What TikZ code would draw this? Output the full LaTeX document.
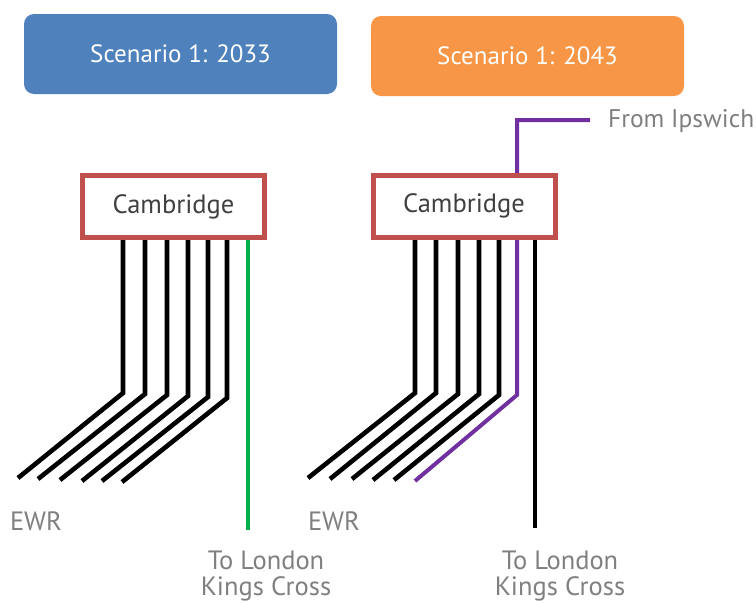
\documentclass[tikz,border=0pt]{standalone}
\usepackage{fontspec}
\setmainfont{PT Sans}
\usetikzlibrary{backgrounds}
\definecolor{scblue}{HTML}{4F81BD}
\definecolor{scorange}{HTML}{F79646}
\definecolor{camred}{HTML}{C0504D}
\definecolor{kxgreen}{HTML}{00B050}
\definecolor{ipurple}{HTML}{7030A0}
\definecolor{lblgray}{HTML}{7F7F7F}
\definecolor{camtext}{HTML}{404040}
\begin{document}
\begin{tikzpicture}[x=1pt,y=-1pt,
  scen/.style={rounded corners=10pt, minimum width=313pt, minimum height=80pt, inner sep=0pt, text=white, font=\fontsize{25}{30}\selectfont},
  cambox/.style={draw=camred, line width=5pt, fill=white, minimum width=182pt, minimum height=62pt, inner sep=0pt, text=camtext, font=\fontsize{26.5}{30}\selectfont},
  lbl/.style={text=lblgray, inner sep=0pt, align=center, font=\fontsize{26.5}{26.5}\selectfont},
  rail/.style={line width=4.6pt, black},
  greenrail/.style={line width=4.6pt, kxgreen},
  purplerail/.style={line width=4pt, ipurple},
]
\useasboundingbox (0,0) rectangle (756,603);

\node[scen, fill=scblue] (s1) at (180.5,54) {Scenario 1: 2033};
\node[scen, fill=scorange] (s2) at (527.5,56) {Scenario 1: 2043};

\node[cambox] (cam1) at (173.5,206.5) {Cambridge};
\node[cambox] (cam2) at (464,206) {Cambridge};

\node[lbl, anchor=west, font=\fontsize{25.5}{27}\selectfont] (ipsw) at (608,121) {From Ipswich};
\node[lbl] (ewr1) at (36,521) {EWR};
\node[lbl] (ewr2) at (334,521) {EWR};
\node[lbl] (lon1) at (266,576) {To London\\Kings Cross};
\node[lbl] (lon2) at (560,576) {To London\\Kings Cross};

% left bends and ends
\coordinate (a1) at (123,393); \coordinate (ea1) at (18,478);
\coordinate (a2) at (145,394); \coordinate (ea2) at (38,479);
\coordinate (a3) at (167,395); \coordinate (ea3) at (60,480);
\coordinate (a4) at (188,396); \coordinate (ea4) at (82,481);
\coordinate (a5) at (208,397); \coordinate (ea5) at (102,481);
\coordinate (a6) at (227,398); \coordinate (ea6) at (122,482);
\coordinate (g1) at (248,530);
% right bends and ends
\coordinate (b1) at (415,393); \coordinate (eb1) at (308,478);
\coordinate (b2) at (436,393); \coordinate (eb2) at (330,479);
\coordinate (b3) at (458,394); \coordinate (eb3) at (352,479);
\coordinate (b4) at (479,394); \coordinate (eb4) at (373,480);
\coordinate (b5) at (499,395); \coordinate (eb5) at (394,480);
\coordinate (pb) at (517,395); \coordinate (pe) at (415,481);
\coordinate (ip) at (590,120); \coordinate (ipc) at (517,120);
\coordinate (k2) at (535,528);

\begin{pgfonlayer}{background}
\foreach \i in {1,...,6}{
  \draw[rail] (a\i |- cam1.center) -- (a\i) -- (ea\i);
}
\draw[greenrail] (g1 |- cam1.center) -- (g1);
\foreach \i in {1,...,5}{
  \draw[rail] (b\i |- cam2.center) -- (b\i) -- (eb\i);
}
\draw[purplerail] (ip) -- (ipc) -- (pb) -- (pe);
\draw[rail] (k2 |- cam2.center) -- (k2);
\end{pgfonlayer}
\end{tikzpicture}
\end{document}
